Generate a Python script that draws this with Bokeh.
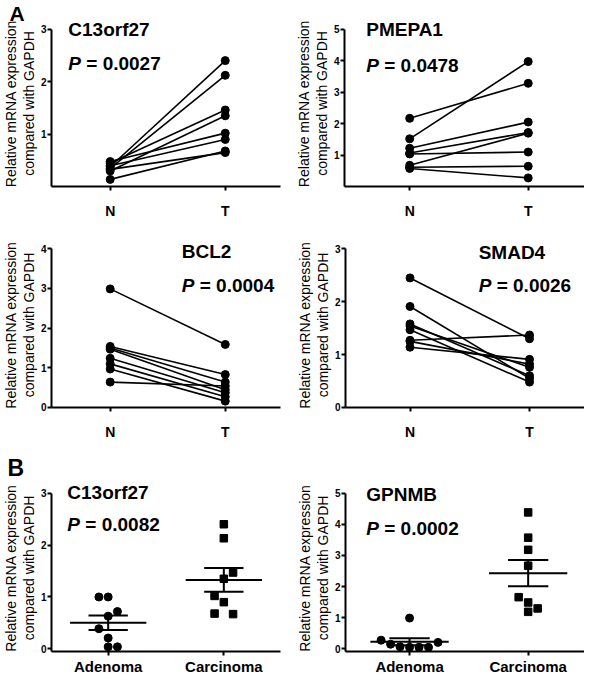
import numpy as np
from bokeh.plotting import figure
from bokeh.layouts import column, row
from bokeh.models import FixedTicker, Label, Range1d
from bokeh.embed import file_html
from bokeh.resources import INLINE

# ---------------- data ----------------
# Panel A: paired normal (N) vs tumour (T)
c13_N = [0.38, 0.35, 0.45, 0.30, 0.48, 0.40, 0.14, 0.33]
c13_T = [2.40, 2.12, 1.46, 1.35, 1.02, 0.90, 0.68, 0.65]
pmepa_N = [2.17, 1.52, 1.22, 1.07, 0.68, 1.04, 0.62, 0.58]
pmepa_T = [3.28, 3.97, 2.05, 1.72, 1.70, 1.10, 0.65, 0.28]
bcl2_N = [2.99, 1.54, 1.50, 1.47, 1.24, 1.10, 0.97, 0.64]
bcl2_T = [1.59, 0.83, 0.64, 0.45, 0.37, 0.27, 0.16, 0.54]
smad4_N = [2.45, 1.91, 1.27, 1.58, 1.54, 1.47, 1.14, 1.25]
smad4_T = [1.30, 0.55, 1.37, 0.60, 0.76, 0.48, 0.91, 0.82]
paired_labels = ["N", "T"]

# Panel B: adenoma vs carcinoma (jitter in dot-widths)
b_c13_aden = [1.00, 1.00, 0.72, 0.63, 0.39, 0.21, 0.04, 0.04]
b_c13_aden_jit = [-1, 0, 1, 0, -1, 0, 0, 1]
b_c13_carc = [2.40, 2.13, 1.47, 1.35, 1.02, 0.90, 0.68, 0.67]
b_c13_carc_jit = [0, 0, 1, 0, -1, 0, -1, 1]
gpnmb_aden = [0.99, 0.28, 0.21, 0.15, 0.07, 0.05, 0.05, 0.05]
gpnmb_aden_jit = [0, -3, 3, -2, -1, 0, 1, 2]
gpnmb_carc = [4.38, 3.57, 3.18, 2.67, 1.66, 1.49, 1.30, 1.19]
gpnmb_carc_jit = [0, 0, 0, 0, -1, 0, 1, 0]
group_labels = ["Adenoma", "Carcinoma"]

FONT = "Liberation Sans"
YLABEL = "Relative mRNA expression\ncompared with GAPDH"
JIT = 0.08

# reference-pixel -> page-pixel mapping (content squeezed into 584 x 677)
SX = 584 / 592
SY = 677 / 687


def X(x):
    return 8 + (x - 3) * SX


def Y(y):
    return 8 + (y - 3) * SY


ROW_Y = [round(Y(3)), round(Y(228)), round(Y(455)), round(Y(690))]
COL_X = [round(X(3)), round(X(300)), round(X(595))]


def base_fig(col, rowi, frame_left_ref, frame_right_ref, ftop_fig,
             axis_top_ref, zero_ref, pad_px, ymax, xr, xlabels, xlab_size,
             xstand):
    left_page = COL_X[col]
    w = COL_X[col + 1] - COL_X[col]
    top_page = ROW_Y[rowi]
    h = ROW_Y[rowi + 1] - ROW_Y[rowi]
    bl = round(X(frame_left_ref) - left_page)
    br = max(0, w - round(X(frame_right_ref) - left_page))
    zero = Y(zero_ref)
    axis_top = Y(axis_top_ref)
    fbottom = round(zero + pad_px)
    bb = top_page + h - fbottom
    ftop = top_page + ftop_fig
    ppu = (zero - axis_top) / ymax
    y_end = ymax + (axis_top - ftop) / ppu
    y_start = -(fbottom - zero) / ppu
    p = figure(width=w, height=h, output_backend="svg", toolbar_location=None,
               x_range=Range1d(*xr), y_range=Range1d(y_start, y_end),
               min_border_left=bl, min_border_right=br,
               min_border_top=ftop_fig, min_border_bottom=bb)
    p.outline_line_color = None
    p.grid.visible = False
    p.background_fill_color = "white"
    p.border_fill_color = "white"
    for ax in (p.xaxis, p.yaxis):
        ax.axis_line_width = 2
        ax.axis_line_color = "black"
        ax.major_tick_line_width = 2
        ax.major_tick_line_color = "black"
        ax.major_tick_out = 4
        ax.major_tick_in = 0
        ax.minor_tick_line_color = None
        ax.major_label_text_font = FONT
        ax.major_label_text_font_style = "bold"
        ax.major_label_text_color = "black"
    p.yaxis.ticker = FixedTicker(ticks=list(range(0, ymax + 1)))
    p.yaxis.bounds = (y_start, ymax)
    p.yaxis.major_label_text_font_size = "10px"
    p.yaxis.major_label_standoff = 1
    p.yaxis.axis_label = YLABEL
    p.yaxis.axis_label_text_font = FONT
    p.yaxis.axis_label_text_font_style = "normal"
    p.yaxis.axis_label_text_font_size = "14px"
    p.yaxis.axis_label_text_line_height = 1.1
    p.yaxis.axis_label_standoff = 1
    p.yaxis.axis_label_text_color = "black"
    p.xaxis.ticker = FixedTicker(ticks=[1, 2])
    p.xaxis.major_label_overrides = {1: xlabels[0], 2: xlabels[1]}
    p.xaxis.major_label_text_font_size = xlab_size
    p.xaxis.major_label_standoff = xstand
    return p


def add_texts(p, x0, dx, ty, py, title, pval):
    dx = dx * SX
    p.add_layout(Label(x=x0, y=ty, x_offset=dx, text=title, text_font=FONT,
                       text_font_style="bold", text_font_size="19px",
                       text_color="black"))
    p.add_layout(Label(x=x0, y=py, x_offset=dx, text="P", text_font=FONT,
                       text_font_style="bold italic", text_font_size="19px",
                       text_color="black"))
    p.add_layout(Label(x=x0, y=py, x_offset=dx + 18, text="= " + pval,
                       text_font=FONT, text_font_style="bold",
                       text_font_size="19px", text_color="black"))


def panel_letter(p, letter, size, standoff):
    p.title.text = letter
    p.title.text_font = FONT
    p.title.text_font_style = "bold"
    p.title.text_font_size = size
    p.title.text_color = "black"
    p.title.align = "left"
    p.title.offset = -p.min_border_left
    p.title.standoff = standoff
    p.title.vertical_align = "bottom"


def paired(p, N, T):
    xs = [[1, 2] for _ in N]
    ys = [[n, t] for n, t in zip(N, T)]
    p.multi_line(xs, ys, line_color="black", line_width=1.6)
    p.scatter([1] * len(N), N, size=8, marker="circle", color="black")
    p.scatter([2] * len(T), T, size=8, marker="circle", color="black")


def scatter_group(p, vals, jit, center, marker):
    v = np.array(vals)
    x = center + np.array(jit) * JIT
    p.scatter(x, v, size=8 if marker == "circle" else 7.5, marker=marker,
              color="black")
    m = v.mean()
    sem = v.std(ddof=1) / np.sqrt(len(v))
    p.segment([center - 0.33], [m], [center + 0.33], [m], line_color="black",
              line_width=2)
    p.segment([center - 0.17, center - 0.17, center], [m + sem, m - sem, m - sem],
              [center + 0.17, center + 0.17, center], [m + sem, m - sem, m + sem],
              line_color="black", line_width=2)


# Row 1
p1 = base_fig(0, 0, 46, 287, 20, 32, 192, 0, 3, (0.49, 2.48),
              paired_labels, "14px", 12)
paired(p1, c13_N, c13_T)
add_texts(p1, 0.49, 17, 2.80, 2.15, "C13orf27", "0.0027")
panel_letter(p1, "A", "21px", -9)

p2 = base_fig(1, 0, 352, 595, 20, 32, 192, 0, 5, (0.45, 2.475),
              paired_labels, "14px", 12)
paired(p2, pmepa_N, pmepa_T)
add_texts(p2, 0.45, 22, 4.65, 3.52, "PMEPA1", "0.0478")

# Row 2
p3 = base_fig(0, 1, 46, 287, 20, 255, 416, 0, 4, (0.49, 2.48),
              paired_labels, "14px", 12)
paired(p3, bcl2_N, bcl2_T)
add_texts(p3, 0.49, 132, 3.67, 2.80, "BCL2", "0.0004")

p4 = base_fig(1, 1, 353, 595, 20, 255, 416, 0, 3, (0.46, 2.46),
              paired_labels, "14px", 12)
paired(p4, smad4_N, smad4_T)
add_texts(p4, 0.46, 135, 2.73, 2.10, "SMAD4", "0.0026")

# Row 3
p5 = base_fig(0, 2, 48, 287, 39, 503, 664, 2.7, 3, (0.51, 2.49),
              group_labels, "15px", 2)
scatter_group(p5, b_c13_aden, b_c13_aden_jit, 1, "circle")
scatter_group(p5, b_c13_carc, b_c13_carc_jit, 2, "square")
add_texts(p5, 0.51, 16, 2.81, 2.19, "C13orf27", "0.0082")
panel_letter(p5, "B", "23px", 8)

p6 = base_fig(1, 2, 353, 595, 39, 503, 664, 2.7, 5, (0.46, 2.475),
              group_labels, "15px", 2)
scatter_group(p6, gpnmb_aden, gpnmb_aden_jit, 1, "circle")
scatter_group(p6, gpnmb_carc, gpnmb_carc_jit, 2, "square")
add_texts(p6, 0.46, 21, 4.63, 3.54, "GPNMB", "0.0002")

p = column(row(p1, p2), row(p3, p4), row(p5, p6))
open("out.html", "w").write(file_html(p, INLINE))
